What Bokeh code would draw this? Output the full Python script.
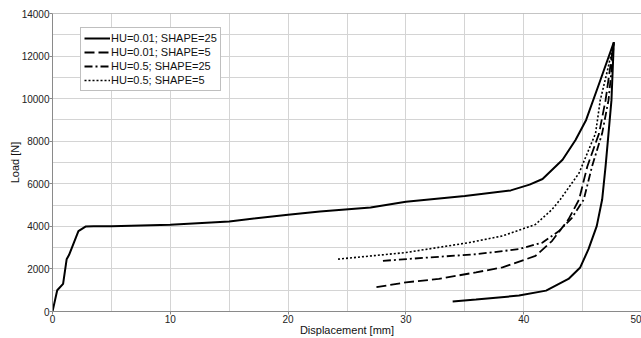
from bokeh.plotting import figure
from bokeh.models import Range1d, FixedTicker, Legend, LegendItem, Span
from bokeh.embed import file_html
from bokeh.resources import INLINE

# ---- data ----
s1_x = [0, 0.4, 0.9, 1.2, 1.4, 2.2, 2.8, 3.5, 5, 10, 15, 20, 22.7, 27, 30, 35, 38.9,
        40.5, 41.6, 43.3, 44.4, 45.3, 46.4, 47.65,
        47.45, 47.2, 46.95, 46.66, 46.2, 45.5, 44.8, 43.8, 41.9, 39.6, 35.95, 33.97]
s1_y = [0, 1000, 1300, 2450, 2650, 3780, 3990, 4010, 4010, 4080, 4230, 4550, 4700, 4890, 5160, 5430, 5690,
        5960, 6225, 7130, 8060, 9000, 10700, 12650,
        9930, 8370, 6815, 5260, 4010, 2930, 2070, 1530, 980, 750, 560, 467]

s2_x = [27.5, 30.0, 32.8, 35.95, 38.2, 41.0, 42.4, 43.8, 44.7, 45.4, 46.4, 46.95, 47.3, 47.65]
s2_y = [1140, 1370, 1530, 1840, 2070, 2610, 3310, 4330, 5260, 6815, 8370, 9930, 11300, 12650]

s3_x = [28.05, 32.0, 35.95, 39.6, 41.6, 43.0, 44.1, 45.1, 45.8, 46.66, 47.2, 47.45, 47.65]
s3_y = [2380, 2540, 2690, 2930, 3240, 3780, 4400, 5260, 6815, 8370, 9930, 11300, 12650]

s4_x = [24.24, 30.0, 35.4, 38.2, 41.0, 42.4, 43.1, 44.7, 46.1, 46.5, 47.1, 47.65]
s4_y = [2460, 2770, 3240, 3550, 4090, 4790, 5260, 6505, 8370, 9930, 11300, 12650]

labels = ["HU=0.01; SHAPE=25", "HU=0.01; SHAPE=5", "HU=0.5; SHAPE=25", "HU=0.5; SHAPE=5"]
x_ticks = [0, 10, 20, 30, 40, 50]
x_minor = [5, 15, 25, 35, 45]
y_ticks = [0, 2000, 4000, 6000, 8000, 10000, 12000, 14000]
y_minor = [1000, 3000, 5000, 7000, 9000, 11000, 13000]

FONT = "Liberation Sans"

p = figure(width=641, height=338, output_backend="svg", toolbar_location=None,
           x_range=Range1d(0, 50), y_range=Range1d(0, 14000),
           min_border_left=52, min_border_right=0, min_border_top=13, min_border_bottom=20)
p.outline_line_color = None
p.background_fill_color = "white"
p.border_fill_color = "white"

p.xaxis.ticker = FixedTicker(ticks=x_ticks, minor_ticks=x_minor)
p.yaxis.ticker = FixedTicker(ticks=y_ticks, minor_ticks=y_minor)

for g in (p.xgrid, p.ygrid):
    g.grid_line_color = "#d4d4d4"
    g.minor_grid_line_color = "#d4d4d4"
    g.grid_line_width = 1
    g.minor_grid_line_width = 1

for ax in (p.xaxis, p.yaxis):
    ax.axis_line_color = "#8a8a8a"
    ax.major_tick_line_color = "#8a8a8a"
    ax.major_tick_out = 3
    ax.major_tick_in = 0
    ax.minor_tick_line_color = None
    ax.major_label_text_font = FONT
    ax.major_label_text_font_size = "10px"
    ax.major_label_text_color = "#222222"
    ax.major_label_standoff = -1
    ax.axis_label_text_font = FONT
    ax.axis_label_text_font_size = "11px"
    ax.axis_label_text_font_style = "normal"
    ax.axis_label_text_color = "#111111"
    ax.axis_label_standoff = -2

p.xaxis.axis_label = "Displacement [mm]"
p.yaxis.axis_label = "Load [N]"

p.add_layout(Span(location=14000, dimension="width", line_color="#8a8a8a", line_width=1))

r1 = p.line(s1_x, s1_y, line_color="black", line_width=2)
r2 = p.line(s2_x, s2_y, line_color="black", line_width=1.8, line_dash="10 4")
r3 = p.line(s3_x, s3_y, line_color="black", line_width=1.8, line_dash="8 3 2 3")
r4 = p.line(s4_x, s4_y, line_color="black", line_width=1.6, line_dash="2 2")

legend = Legend(items=[LegendItem(label=labels[0], renderers=[r1]),
                       LegendItem(label=labels[1], renderers=[r2]),
                       LegendItem(label=labels[2], renderers=[r3]),
                       LegendItem(label=labels[3], renderers=[r4])],
                location=(28, 220))
legend.label_text_font = FONT
legend.label_text_font_size = "11px"
legend.label_text_color = "#111111"
legend.label_height = 14
legend.glyph_height = 14
legend.glyph_width = 26
legend.label_standoff = 1
legend.spacing = 0
legend.padding = 3
legend.margin = 0
legend.border_line_color = "#808080"
legend.border_line_width = 1
legend.background_fill_color = "white"
legend.background_fill_alpha = 1
p.add_layout(legend, "center")

open("out.html", "w").write(file_html(p, INLINE))
